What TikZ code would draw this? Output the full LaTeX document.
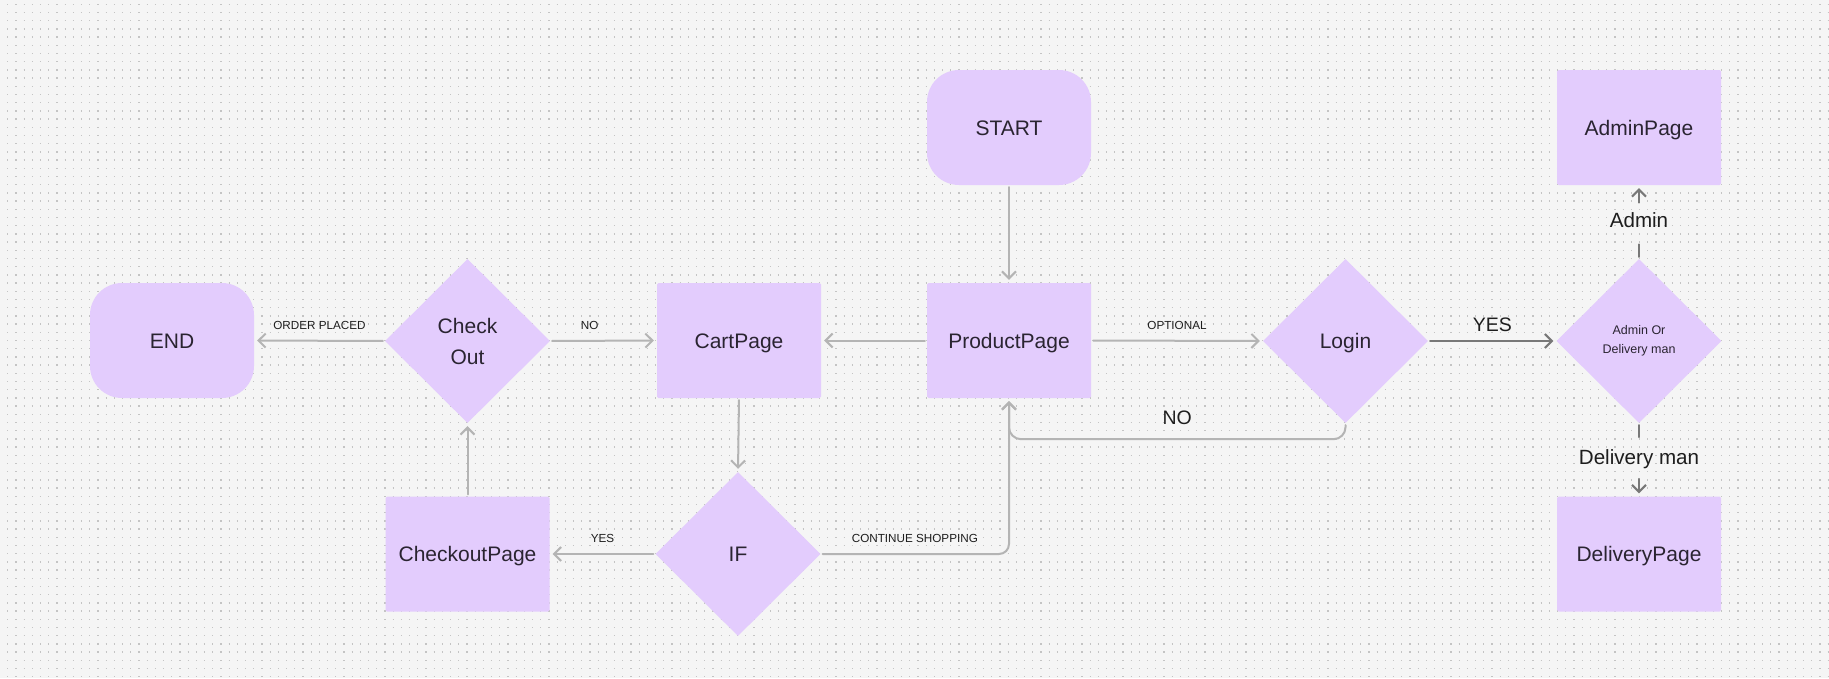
\documentclass[tikz,border=0pt]{standalone}
\usepackage{fontspec}
\setmainfont{Liberation Sans}
\usetikzlibrary{shapes.geometric,arrows.meta}
\definecolor{bg}{HTML}{F5F5F5}
\definecolor{dotc}{HTML}{C4C4C4}
\definecolor{boxfill}{HTML}{E3CCFD}
\definecolor{txt}{HTML}{2A2431}
\definecolor{lblc}{HTML}{1E1E1E}
\definecolor{litec}{HTML}{B4B4B4}
\definecolor{darkc}{HTML}{787878}
\newcommand{\fsz}[2]{\fontsize{#1}{#2}\selectfont}
\begin{document}
\begin{tikzpicture}[x=1pt,y=-1pt,
  pagebox/.style={rectangle, fill=boxfill, minimum width=164pt, minimum height=115pt,
    rounded corners=1.5pt, inner sep=0pt, text=txt, font=\fsz{21}{25},
    text height=15pt, text depth=0pt},
  termbox/.style={pagebox, rounded corners=32pt},
  decbox/.style={diamond, aspect=1, fill=boxfill, minimum width=165pt, minimum height=164pt,
    inner sep=0pt, text=txt, font=\fsz{21}{31}, align=center},
  con/.style={draw=litec, line width=2pt, line cap=round, line join=round,
    -{Straight Barb[length=7pt,width=14pt]}, shorten >=3pt, shorten <=2pt},
  dcon/.style={con, draw=darkc},
  slbl/.style={font=\fsz{11.7}{14}, text=lblc, inner sep=0pt},
  blbl/.style={font=\fsz{19.5}{23}, text=lblc, inner sep=0pt},
  rlbl/.style={font=\fsz{20.6}{24}, text=lblc, inner xsep=2pt, inner ysep=9.5pt,
    text height=15pt, text depth=4.5pt},
]
\fill[bg] (0,0) rectangle (1829,678);
\useasboundingbox (0,0) rectangle (1829,678);
\foreach \k in {0,...,82}{
  \pgfmathsetmacro{\yy}{4.33+\k*8.2}
  \draw[dotc, line width=1.3pt, dash pattern=on 1.3pt off 6.9pt] (7.15,\yy) -- (1829,\yy);
}
% nodes
\node[termbox] (start) at (1009,127.5) {START};
\node[pagebox] (pp) at (1009,340.5) {ProductPage};
\node[pagebox] (cart) at (739,340.5) {CartPage};
\node[termbox] (end) at (172,340.5) {END};
\node[decbox] (co) at (467.5,341) {Check\\Out};
\node[decbox, text height=15pt, text depth=0pt] (login) at (1345.5,341) {Login};
\node[decbox, text height=15pt, text depth=0pt] (if) at (738,554) {IF};
\node[pagebox] (cop) at (467.5,554) {CheckoutPage};
\node[decbox, font=\fsz{12.5}{18.5}] (ad) at (1639,341) {Admin Or\\Delivery man};
\node[pagebox] (admin) at (1639,127.5) {AdminPage};
\node[pagebox] (deliv) at (1639,554) {DeliveryPage};
\node[rlbl] (ladmin) at (1639,222) {Admin};
\node[rlbl] (ldel) at (1639,459.5) {Delivery man};
% connectors
\draw[con] (start.south) -- (pp.north);
\draw[con] (pp.west) -- (cart.east);
\draw[con] (pp.east) -- node[slbl, midway, above=10.5pt] {OPTIONAL} (login.west);
\draw[dcon] (login.east) -- node[blbl, midway, above=8pt] {YES} (ad.west);
\draw[con, rounded corners=12pt] (login.south) -- ++(0,16) -| node[blbl, pos=0.25, above=14pt] {NO} (pp.south);
\draw[con, rounded corners=10pt] (if.east) -| node[slbl, pos=0.25, above=10.5pt] {CONTINUE SHOPPING} (pp.south);
\draw[con] (cart.south) -- (if.north);
\draw[con] (if.west) -- node[slbl, midway, above=10.5pt] {YES} (cop.east);
\draw[con] (cop.north) -- (co.south);
\draw[con] (co.east) -- node[slbl, pos=0.37, above=10.5pt] {NO} (cart.west);
\draw[con] (co.west) -- node[slbl, midway, above=10.5pt] {ORDER PLACED} (end.east);
\draw[dcon, -] (ad.north) -- (ladmin.south);
\draw[dcon, shorten <=0pt] (ladmin.north) -- (admin.south);
\draw[dcon, -] (ad.south) -- (ldel.north);
\draw[dcon, shorten <=0pt] (ldel.south) -- (deliv.north);
\end{tikzpicture}
\end{document}
